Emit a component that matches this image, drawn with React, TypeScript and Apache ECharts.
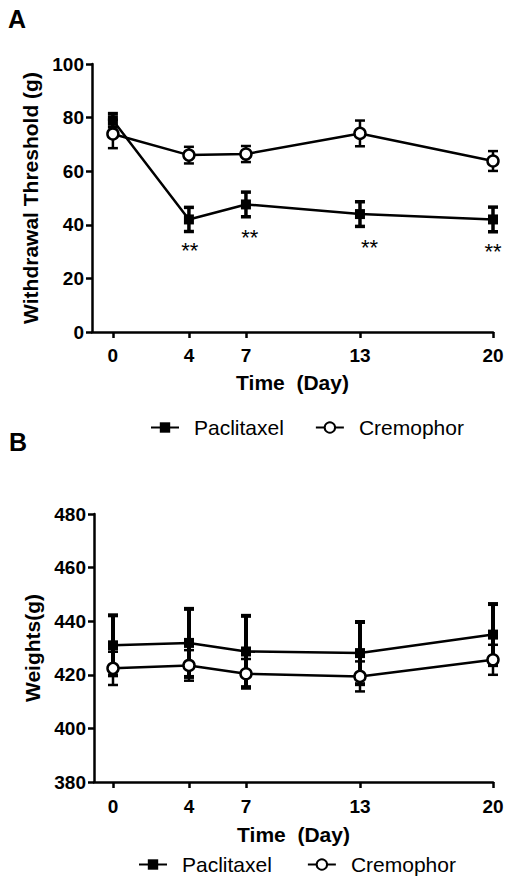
import React, { useEffect, useRef } from "react";
import * as echarts from "echarts";

const FONT = "'Liberation Sans', Arial, Helvetica, sans-serif";

// Shared x categories (days)
const days = [0, 4, 7, 13, 20];

// Panel A: withdrawal threshold (g)
const thrPaclitaxel = [79, 42, 47.6, 44, 42];
const thrPaclitaxelErr = [2.5, 4.5, 4.6, 4.6, 4.6];
const thrCremophor = [73.9, 66, 66.4, 74.1, 63.8];
const thrCremophorErr = [5.3, 3.1, 3, 4.8, 3.7];
// significance markers ("**") position in data units
const starDays = [4.05, 7.2, 13.5, 20];
const starLevels = [30.3, 35.4, 31.7, 29.9];

// Panel B: weights (g)
const wtPaclitaxel = [431, 431.9, 428.7, 428.1, 435];
const wtPaclitaxelErr = [11.2, 12.7, 13.3, 11.6, 11.4];
const wtCremophor = [422.4, 423.5, 420.4, 419.4, 425.6];
const wtCremophorErr = [6.2, 5.7, 5.5, 5.6, 5.6];

const yTicksA = { min: 0, max: 100, interval: 20 };
const yTicksB = { min: 380, max: 480, interval: 20 };

const BLACK = "#000";

function errorBarSeries(name: string, idx: number, means: number[], errs: number[], width: number, capHalf: number) {
  return {
    type: "custom",
    name,
    xAxisIndex: idx,
    yAxisIndex: idx,
    z: 1,
    silent: true,
    encode: { x: 0, y: 1 },
    data: days.map((d, i) => [d, means[i], errs[i]]),
    renderItem: (_params: any, api: any) => {
      const x = api.value(0);
      const m = api.value(1);
      const e = api.value(2);
      const hi = api.coord([x, m + e]);
      const lo = api.coord([x, m - e]);
      const st = { stroke: BLACK, lineWidth: width };
      return {
        type: "group",
        children: [
          { type: "line", shape: { x1: hi[0], y1: hi[1], x2: lo[0], y2: lo[1] }, style: st },
          { type: "line", shape: { x1: hi[0] - capHalf, y1: hi[1], x2: hi[0] + capHalf, y2: hi[1] }, style: st },
          { type: "line", shape: { x1: lo[0] - capHalf, y1: lo[1], x2: lo[0] + capHalf, y2: lo[1] }, style: st },
        ],
      };
    },
  };
}

function lineSeries(name: string, idx: number, values: number[], filled: boolean) {
  return {
    type: "line",
    name,
    xAxisIndex: idx,
    yAxisIndex: idx,
    z: filled ? 3 : 4,
    data: days.map((d, i) => [d, values[i]]),
    symbol: filled ? "rect" : "circle",
    symbolSize: filled ? 10 : 11,
    showSymbol: true,
    lineStyle: { color: BLACK, width: 2.5 },
    itemStyle: filled
      ? { color: BLACK, borderColor: BLACK, borderWidth: 0 }
      : { color: "#fff", borderColor: BLACK, borderWidth: 2.5 },
    emphasis: { disabled: true },
  };
}

function xAxisDef(idx: number, min: number, labelMargin: number, nameGap: number) {
  return {
    type: "value",
    gridIndex: idx,
    min,
    max: 20,
    axisLine: { show: true, onZero: false, lineStyle: { color: BLACK, width: 2.5 } },
    axisTick: { show: true, length: 6, customValues: days, lineStyle: { color: BLACK, width: 2.5 } },
    axisLabel: {
      customValues: days,
      margin: labelMargin,
      fontSize: 19,
      fontWeight: "bold",
      color: BLACK,
      fontFamily: FONT,
    },
    splitLine: { show: false },
    name: "Time  (Day)",
    nameLocation: "middle",
    nameGap,
    nameTextStyle: { fontSize: 21, fontWeight: "bold", color: BLACK, fontFamily: FONT },
  };
}

function yAxisDef(idx: number, ticks: { min: number; max: number; interval: number }, title: string) {
  return {
    type: "value",
    gridIndex: idx,
    min: ticks.min,
    max: ticks.max,
    interval: ticks.interval,
    axisLine: { show: true, onZero: false, lineStyle: { color: BLACK, width: 2.5 } },
    axisTick: { show: true, length: 6, lineStyle: { color: BLACK, width: 2.5 } },
    axisLabel: { margin: 8, fontSize: 19, fontWeight: "bold", color: BLACK, fontFamily: FONT },
    splitLine: { show: false },
    name: title,
    nameLocation: "middle",
    nameRotate: 90,
    nameGap: 47,
    nameTextStyle: { fontSize: 21, fontWeight: "bold", color: BLACK, fontFamily: FONT },
  };
}

function legendDef(top: number, left: number, gap: number, textPad: number) {
  return {
    top,
    left,
    padding: 0,
    orient: "horizontal",
    itemWidth: 28,
    itemHeight: 13,
    itemGap: gap,
    selectedMode: false,
    data: ["Paclitaxel", "Cremophor"],
    textStyle: { fontSize: 21, color: BLACK, fontFamily: FONT, padding: [0, 0, 0, textPad] },
  };
}

export default function App() {
  const ref = useRef<HTMLDivElement>(null);

  useEffect(() => {
    if (!ref.current) return;
    const chart = echarts.init(ref.current, undefined, { renderer: "svg" });
    const option: any = {
      animation: false,
      backgroundColor: "#fff",
      textStyle: { fontFamily: FONT },
      grid: [
        { left: 92, top: 64, width: 401, height: 268, containLabel: false, outerBoundsMode: "none" },
        { left: 94, top: 514, width: 399, height: 268, containLabel: false, outerBoundsMode: "none" },
      ],
      xAxis: [xAxisDef(0, -1.1, 14, 40), xAxisDef(1, -1.0, 15, 42)],
      yAxis: [
        yAxisDef(0, yTicksA, "Withdrawal Threshold (g)"),
        yAxisDef(1, yTicksB, "Weights(g)"),
      ],
      legend: [legendDef(417, 150, 31, 10), legendDef(854, 138, 35, 10)],
      graphic: [
        {
          type: "text",
          left: 8,
          top: 6,
          style: { text: "A", fontSize: 25, fontWeight: "bold", fill: BLACK, fontFamily: FONT },
        },
        {
          type: "text",
          left: 9,
          top: 429,
          style: { text: "B", fontSize: 25, fontWeight: "bold", fill: BLACK, fontFamily: FONT },
        },
      ],
      series: [
        errorBarSeries("errP_A", 0, thrPaclitaxel, thrPaclitaxelErr, 3.5, 5),
        errorBarSeries("errC_A", 0, thrCremophor, thrCremophorErr, 2.5, 5),
        lineSeries("Paclitaxel", 0, thrPaclitaxel, true),
        lineSeries("Cremophor", 0, thrCremophor, false),
        {
          type: "custom",
          name: "significance",
          xAxisIndex: 0,
          yAxisIndex: 0,
          z: 5,
          silent: true,
          encode: { x: 0, y: 1 },
          data: starDays.map((d, i) => [d, starLevels[i]]),
          renderItem: (_params: any, api: any) => {
            const p = api.coord([api.value(0), api.value(1)]);
            return {
              type: "text",
              x: p[0],
              y: p[1],
              style: {
                text: "**",
                fill: BLACK,
                fontSize: 22,
                fontFamily: FONT,
                align: "center",
                verticalAlign: "middle",
              },
            };
          },
        },
        errorBarSeries("errP_B", 1, wtPaclitaxel, wtPaclitaxelErr, 4, 5),
        errorBarSeries("errC_B", 1, wtCremophor, wtCremophorErr, 2.5, 5),
        lineSeries("Paclitaxel", 1, wtPaclitaxel, true),
        lineSeries("Cremophor", 1, wtCremophor, false),
      ],
    };
    chart.setOption(option);
    return () => chart.dispose();
  }, []);

  return (
    <div
      ref={ref}
      style={{ position: "absolute", left: 0, top: 0, width: 512, height: 886, background: "#fff" }}
    />
  );
}
